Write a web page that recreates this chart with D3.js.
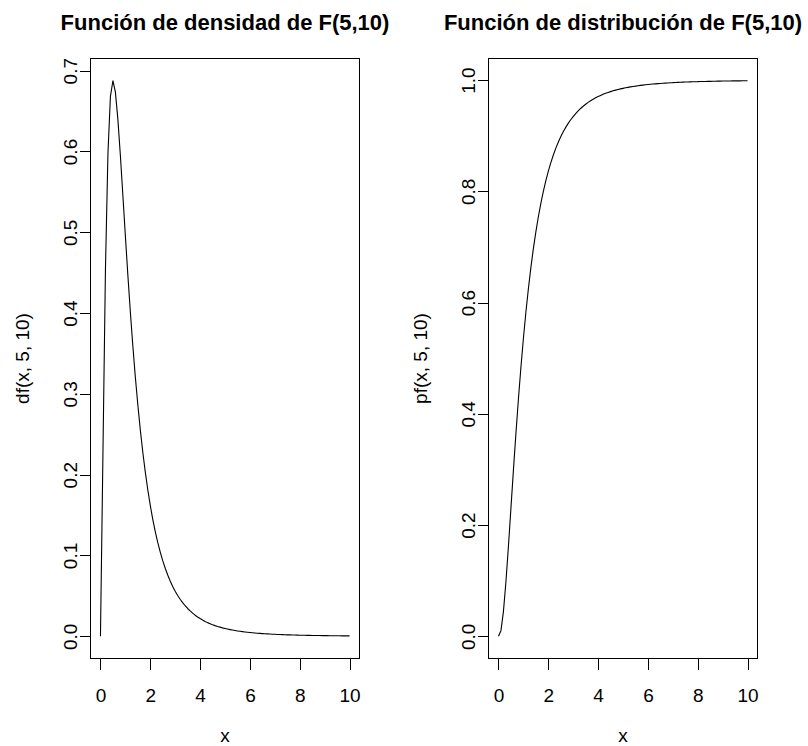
<!DOCTYPE html>
<html><head><meta charset="utf-8">
<script src="https://cdn.jsdelivr.net/npm/d3@7/dist/d3.min.js"></script>
<style>
body{margin:0;background:#fff}
svg{display:block}
text{font-family:"Liberation Sans",Arial,Helvetica,sans-serif;fill:#000}
</style>
</head><body>
<svg id="chart" width="808" height="746"></svg>
<script>
// x grid (seq(0, 10, by = 0.1))
const xValues = [0,0.1,0.2,0.3,0.4,0.5,0.6,0.7,0.8,0.9,1,1.1,1.2,1.3,1.4,1.5,1.6,1.7,1.8,1.9,2,2.1,2.2,2.3,2.4,2.5,2.6,2.7,2.8,2.9,3,3.1,3.2,3.3,3.4,3.5,3.6,3.7,3.8,3.9,4,4.1,4.2,4.3,4.4,4.5,4.6,4.7,4.8,4.9,5,5.1,5.2,5.3,5.4,5.5,5.6,5.7,5.8,5.9,6,6.1,6.2,6.3,6.4,6.5,6.6,6.7,6.8,6.9,7,7.1,7.2,7.3,7.4,7.5,7.6,7.7,7.8,7.9,8,8.1,8.2,8.3,8.4,8.5,8.6,8.7,8.8,8.9,9,9.1,9.2,9.3,9.4,9.5,9.6,9.7,9.8,9.9,10];
// df(x, 5, 10)
const densityValues = [0,0.2274,0.4537,0.5972,0.6682,0.6876,0.6735,0.6395,0.5948,0.5455,0.4955,0.4470,0.4014,0.3593,0.3210,0.2865,0.2555,0.2278,0.2032,0.1814,0.1620,0.1448,0.1296,0.1161,0.1042,0.0936,0.0842,0.0758,0.0684,0.0617,0.0558,0.0505,0.0458,0.0416,0.0378,0.0344,0.0314,0.0286,0.0261,0.0239,0.0219,0.0201,0.0184,0.0169,0.0156,0.0143,0.0132,0.0122,0.0113,0.0104,0.00963,0.00892,0.00827,0.00767,0.00713,0.00662,0.00616,0.00574,0.00534,0.00498,0.00465,0.00434,0.00406,0.00380,0.00355,0.00333,0.00312,0.00293,0.00275,0.00258,0.00242,0.00228,0.00214,0.00202,0.00190,0.00179,0.00169,0.00159,0.00150,0.00142,0.00134,0.00127,0.00120,0.00114,0.00108,0.00102,0.00097,0.00092,0.00087,0.00083,0.00078,0.00075,0.00071,0.00067,0.00064,0.00061,0.00058,0.00055,0.00053,0.00050,0.00048];
// pf(x, 5, 10)
const cdfValues = [0,0.0101,0.0448,0.0980,0.1618,0.2300,0.2983,0.3640,0.4258,0.4828,0.5349,0.5820,0.6244,0.6624,0.6964,0.7267,0.7538,0.7779,0.7995,0.8187,0.8358,0.8511,0.8648,0.8771,0.8881,0.8980,0.9069,0.9149,0.9221,0.9286,0.9344,0.9398,0.9446,0.9489,0.9529,0.9565,0.9598,0.9628,0.9655,0.9680,0.9703,0.9724,0.9743,0.9761,0.9777,0.9792,0.9806,0.9819,0.9830,0.9841,0.9851,0.9861,0.9869,0.9877,0.9885,0.9891,0.9898,0.9904,0.9909,0.9915,0.9919,0.9924,0.9928,0.9932,0.9936,0.9939,0.9942,0.9945,0.9948,0.9951,0.9953,0.9956,0.9958,0.9960,0.9962,0.9964,0.9965,0.9967,0.9969,0.9970,0.9971,0.9973,0.9974,0.9975,0.9976,0.9977,0.9978,0.9979,0.9980,0.9981,0.9982,0.9983,0.9983,0.9984,0.9985,0.9985,0.9986,0.9986,0.9987,0.9987,0.9988];

const xTicks = [0,2,4,6,8,10];
const densityTicks = [0,0.1,0.2,0.3,0.4,0.5,0.6,0.7];
const cdfTicks = [0,0.2,0.4,0.6,0.8,1.0];
const titles = ["Función de densidad de F(5,10)", "Función de distribución de F(5,10)"];
const yLabels = ["df(x, 5, 10)", "pf(x, 5, 10)"];
const xLabel = "x";

const panels = [
  {title: titles[0], ylab: yLabels[0], values: densityValues, yTicks: densityTicks, left: 90.5, right: 359.5},
  {title: titles[1], ylab: yLabels[1], values: cdfValues, yTicks: cdfTicks, left: 488.5, right: 757.5}
];
const plotTop = 58.5, plotBottom = 658.5;
const tickFont = 19, titleFont = 22;

// R-style 4% axis expansion
function expand(ext){ const d = (ext[1]-ext[0])*0.04; return [ext[0]-d, ext[1]+d]; }

const svg = d3.select("#chart");

panels.forEach(p => {
  const x = d3.scaleLinear().domain(expand(d3.extent(xValues))).range([p.left, p.right]);
  const y = d3.scaleLinear().domain(expand(d3.extent(p.values))).range([plotBottom, plotTop]);
  const g = svg.append("g");

  // curve
  const pts = xValues.map((v,i) => [v, p.values[i]]);
  g.append("path")
    .datum(pts)
    .attr("fill","none")
    .attr("stroke","#000")
    .attr("stroke-width",1.1)
    .attr("stroke-linejoin","round")
    .attr("d", d3.line().x(d => x(d[0])).y(d => y(d[1])));

  // box
  g.append("rect")
    .attr("x", p.left).attr("y", plotTop)
    .attr("width", p.right - p.left).attr("height", plotBottom - plotTop)
    .attr("fill","none").attr("stroke","#000").attr("stroke-width",1)
    .attr("shape-rendering","crispEdges");

  // x axis
  const xa = g.append("g").attr("transform", `translate(0,${plotBottom})`)
    .call(d3.axisBottom(x).tickValues(xTicks).tickSize(11).tickSizeOuter(0).tickFormat(d3.format("d")));
  xa.select(".domain").remove();
  xa.selectAll(".tick line").attr("stroke","#000").attr("shape-rendering","crispEdges");
  xa.selectAll(".tick text")
    .attr("y", 43).attr("dy", null)
    .attr("font-size", tickFont).attr("font-family", null).attr("fill","#000");

  // y axis
  const ya = g.append("g").attr("transform", `translate(${p.left},0)`)
    .call(d3.axisLeft(y).tickValues(p.yTicks).tickSize(11).tickSizeOuter(0).tickFormat(d3.format(".1f")));
  ya.select(".domain").remove();
  ya.selectAll(".tick line").attr("stroke","#000").attr("shape-rendering","crispEdges");
  ya.selectAll(".tick text")
    .attr("transform","rotate(-90)")
    .attr("x", 0).attr("y", -14).attr("dy", null)
    .attr("text-anchor","middle")
    .attr("font-size", tickFont).attr("font-family", null).attr("fill","#000");

  const cx = (p.left + p.right) / 2;
  // title
  g.append("text").attr("x", cx).attr("y", 30)
    .attr("text-anchor","middle").attr("font-size", titleFont).attr("font-weight","bold")
    .text(p.title);
  // x label
  g.append("text").attr("x", cx).attr("y", 742)
    .attr("text-anchor","middle").attr("font-size", tickFont)
    .text(xLabel);
  // y label
  g.append("text")
    .attr("transform", `translate(${p.left - 62},${(plotTop+plotBottom)/2}) rotate(-90)`)
    .attr("text-anchor","middle").attr("font-size", tickFont)
    .text(p.ylab);
});
</script>
</body></html>
